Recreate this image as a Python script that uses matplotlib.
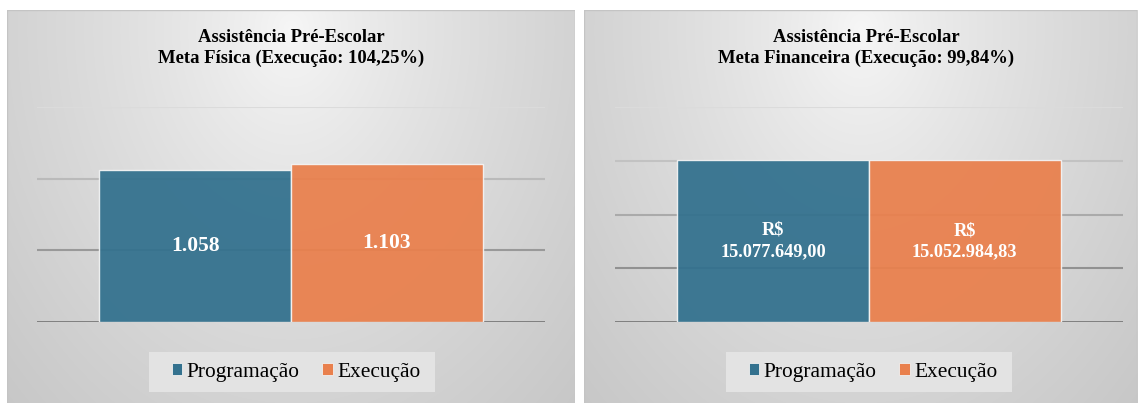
import numpy as np
import matplotlib
matplotlib.use("Agg")
import matplotlib.pyplot as plt
from matplotlib.patches import Rectangle, Patch

# ---- data ----
series = ["Programação", "Execução"]
fisica_values = [1058, 1103]
financeira_values = [15077649.00, 15052984.83]
title_fisica = "Assistência Pré-Escolar\nMeta Física (Execução: 104,25%)"
title_financeira = "Assistência Pré-Escolar\nMeta Financeira (Execução: 99,84%)"
fisica_ticks = [0, 500, 1000, 1500]
financeira_ticks = [0, 5e6, 10e6, 15e6, 20e6]

colors = ["#33718E", "#E9804D"]
SERIF = ["Liberation Serif", "DejaVu Serif"]

W, H = 1140, 403
fig = plt.figure(figsize=(W / 100, H / 100), dpi=100)
fig.patch.set_facecolor("white")


def fx(px):
    return px / W


def fy(py):
    return 1 - py / H


def br_int(v):
    return f"{int(round(v)):,}".replace(",", ".")


def br_money(v):
    s = f"{v:,.2f}"
    s = s.replace(",", "X").replace(".", ",").replace("X", ".")
    return "R$\n" + s


def panel(x0, x1, y0, y1):
    ax = fig.add_axes([fx(x0), fy(y1), fx(x1 - x0), (y1 - y0) / H], zorder=0)
    nx, ny = 300, 220
    xs = np.linspace(0, 1, nx)
    ys = np.linspace(0, 1, ny)
    X, Y = np.meshgrid(xs, ys)
    r = np.sqrt(((X - 0.5) / 0.5) ** 2 + ((Y - 0.05) / 0.95) ** 2)
    v = (247 - 36 * r ** 0.8) / 255.0
    img = np.dstack([v, v, v])
    ax.imshow(img, extent=[0, 1, 1, 0], aspect="auto", interpolation="bilinear")
    ax.set_xlim(0, 1)
    ax.set_ylim(1, 0)
    ax.axis("off")
    ax.add_patch(Rectangle((0, 0), 1, 1, fill=False, edgecolor="#c4c4c4",
                           lw=1.0, transform=ax.transAxes))


def chart(values, ticks, labels, title, gx0, gx1, label_size, title_cx,
          leg_box, leg_cx):
    gy_top, gy_bot = 107, 322
    ax = fig.add_axes([fx(gx0), fy(gy_bot), fx(gx1 - gx0), (gy_bot - gy_top) / H], zorder=2)
    ax.patch.set_alpha(0)
    ymax = ticks[-1]
    ax.set_ylim(0, ymax)
    ax.set_xlim(-1.326, 1.326)
    for t in ticks:
        frac = t / ymax
        g = 0.47 + 0.39 * frac
        ax.axhline(t, color=(g, g, g), lw=2.0 if t == 0 else 1.5, zorder=1)
    xs = [-0.5, 0.5]
    bars = ax.bar(xs, values, width=1.0, color=colors, alpha=0.94,
                  edgecolor="#f4f4f4", linewidth=1.0, zorder=3)
    for b, lab in zip(bars, labels):
        ax.text(b.get_x() + b.get_width() / 2, b.get_height() / 2, lab,
                ha="center", va="center", color="white", fontsize=label_size,
                fontweight="bold", family=SERIF, zorder=4, linespacing=1.32)
    ax.set_xticks([])
    ax.set_yticks([])
    for s in ax.spines.values():
        s.set_visible(False)
    fig.text(fx(title_cx), fy(48), title, ha="center", va="center",
             fontsize=13.4, fontweight="bold", family=SERIF, linespacing=1.25)
    # legend background box
    bx0, bx1, by0, by1 = leg_box
    fig.patches.append(Rectangle((fx(bx0), fy(by1)), fx(bx1 - bx0), (by1 - by0) / H,
                                 transform=fig.transFigure, facecolor="#e3e3e3",
                                 edgecolor="none", zorder=1))
    handles = [Patch(facecolor=c, edgecolor="#f0f0f0", lw=0.6) for c in colors]
    leg = fig.legend(handles, series, loc="center",
                     bbox_to_anchor=(fx(leg_cx), fy(372)), ncol=2,
                     prop={"family": SERIF, "size": 15.4}, frameon=False,
                     handlelength=0.5, handleheight=0.5,
                     handletextpad=0.2, columnspacing=1.05,
                     borderpad=0.0, borderaxespad=0)
    leg.set_zorder(3)


panel(7, 575, 10, 404)
panel(584, 1137, 10, 404)

chart(fisica_values, fisica_ticks, [br_int(v) for v in fisica_values],
      title_fisica, 37, 545, 15.5, 291, (149, 435, 352, 392), 296)
chart(financeira_values, financeira_ticks, [br_money(v) for v in financeira_values],
      title_financeira, 615, 1123, 13.2, 866, (726, 1012, 352, 392), 873)

fig.savefig("out.png", dpi=100)
